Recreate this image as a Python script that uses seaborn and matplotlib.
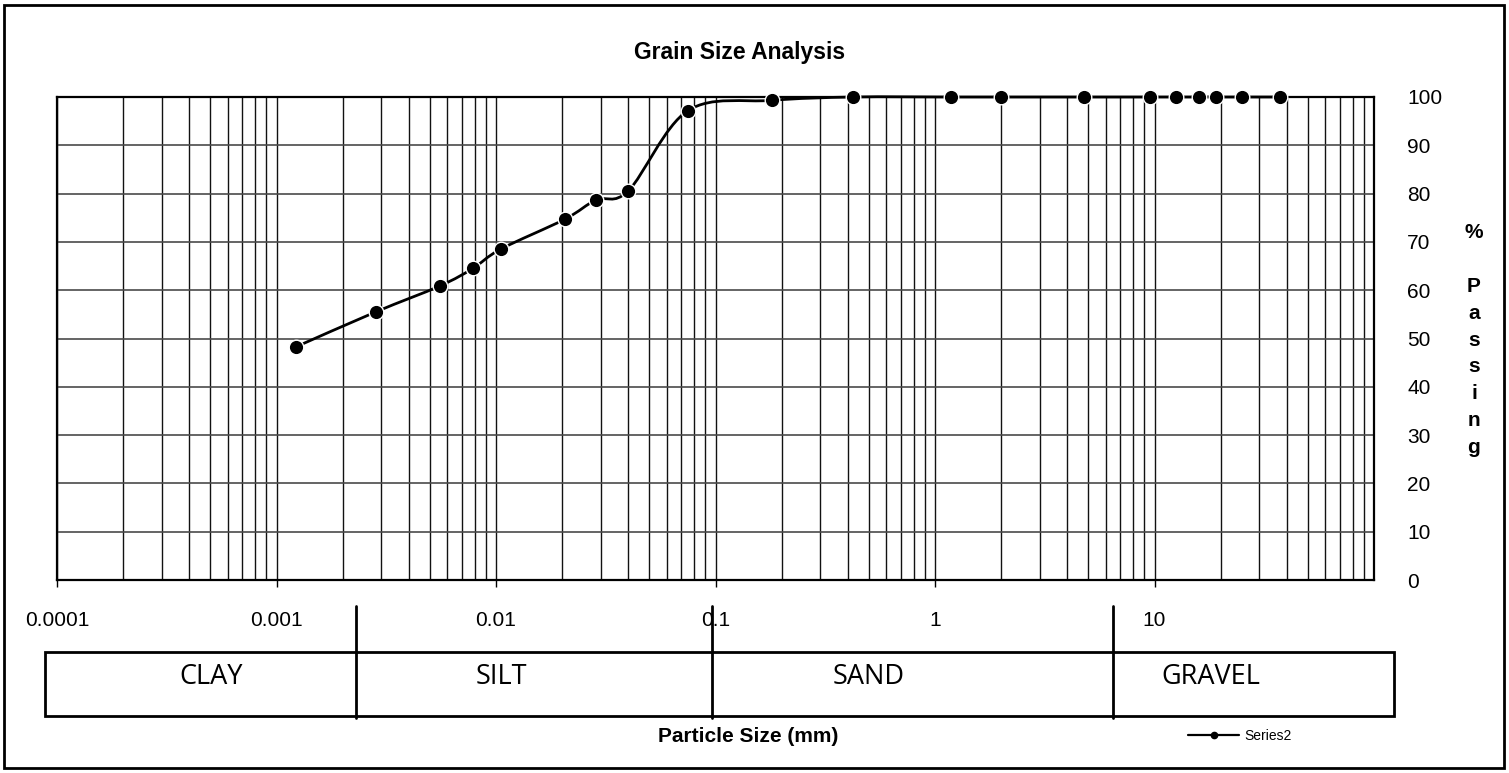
import numpy as np
import pandas as pd
import matplotlib
matplotlib.use("Agg")
import matplotlib.pyplot as plt
import seaborn as sns
from matplotlib.path import Path
from matplotlib.patches import PathPatch, Rectangle
from matplotlib.lines import Line2D
from matplotlib.ticker import LogLocator, NullFormatter

# ---------------- data ----------------
title = "Grain Size Analysis"
x_label = "Particle Size (mm)"
y_label = "%\n\nP\na\ns\ns\ni\nn\ng"
series_name = "Series2"
particle_size_mm = [0.00123, 0.00283, 0.00556, 0.00784, 0.0105, 0.0206, 0.0286,
                    0.0401, 0.075, 0.18, 0.425, 1.18, 2.0, 4.75, 9.5, 12.5,
                    16.0, 19.0, 25.0, 37.5]
percent_passing = [48.3, 55.5, 60.9, 64.5, 68.5, 74.7, 78.7, 80.6, 97.2, 99.3,
                   100, 100, 100, 100, 100, 100, 100, 100, 100, 100]
x_tick_values = [0.0001, 0.001, 0.01, 0.1, 1, 10]
x_tick_labels = ["0.0001", "0.001", "0.01", "0.1", "1", "10"]
y_tick_values = [0, 10, 20, 30, 40, 50, 60, 70, 80, 90, 100]
soil_classes = ["CLAY", "SILT", "SAND", "GRAVEL"]

# ---------------- layout ----------------
W, H = 1509, 773
sns.set_theme(style="white")
plt.rcParams['font.family'] = ['Liberation Sans', 'DejaVu Sans']
plt.rcParams['text.color'] = 'black'
plt.rcParams['axes.labelcolor'] = 'black'
plt.rcParams['xtick.color'] = 'black'
plt.rcParams['ytick.color'] = 'black'

fig = plt.figure(figsize=(W / 100, H / 100), dpi=100)
fig.patch.set_facecolor("white")


def fx(px):
    return px / W


def fy(py):
    return 1 - py / H


ax = fig.add_axes([fx(57), fy(580), (1374 - 57) / W, (580 - 97) / H])
ax.set_facecolor("white")
df = pd.DataFrame({"size": particle_size_mm, "passing": percent_passing})

ax.set_xscale("log")
ax.set_xlim(1e-4, 100)
ax.set_ylim(0, 100)

# grid
ax.xaxis.set_minor_locator(LogLocator(base=10, subs=np.arange(2, 10)))
ax.xaxis.set_minor_formatter(NullFormatter())
ax.set_xticks(x_tick_values)
ax.set_xticklabels(x_tick_labels)
ax.set_yticks(y_tick_values)
ax.grid(True, which="both", axis="x", color="#111111", lw=1.0)
ax.grid(True, which="major", axis="y", color="#4a4a4a", lw=1.2)
ax.set_axisbelow(True)

# smoothed line (Bezier through the points, computed in log-x space)
lx = np.log10(np.array(particle_size_mm))
ly = np.array(percent_passing, dtype=float)
P = np.column_stack([lx, ly])
n = len(P)
verts = [P[0]]
codes = [Path.MOVETO]
for i in range(n - 1):
    p0 = P[i - 1] if i > 0 else P[i]
    p1 = P[i]
    p2 = P[i + 1]
    p3 = P[i + 2] if i + 2 < n else P[i + 1]
    c1 = p1 + (p2 - p0) / 6.0
    c2 = p2 - (p3 - p1) / 6.0
    verts += [c1, c2, p2]
    codes += [Path.CURVE4] * 3
verts = np.array(verts)
verts[:, 0] = 10 ** verts[:, 0]
curve = PathPatch(Path(verts, codes), fill=False, edgecolor="black", lw=2.0,
                  transform=ax.transData, clip_on=False, zorder=4)
ax.add_patch(curve)

sns.scatterplot(data=df, x="size", y="passing", ax=ax, color="black", s=110,
                edgecolor="white", linewidth=1.0, zorder=5, clip_on=False,
                legend=False)

ax.set_xlabel("")
ax.set_ylabel("")

for sp in ax.spines.values():
    sp.set_visible(True)
    sp.set_color("black")
    sp.set_linewidth(1.6)

ax.tick_params(axis="x", which="major", bottom=True, direction="out", length=5,
               width=1, pad=17, labelsize=15, colors="black")
ax.tick_params(axis="x", which="minor", bottom=False, length=0)
ax.yaxis.tick_right()
ax.tick_params(axis="y", which="both", left=False, right=False, length=0,
               pad=24, labelsize=15, colors="black")

# title and labels
fig.text(fx(740), fy(52), title, ha="center", va="center", fontsize=16.5,
         fontweight="bold", color="black")
fig.text(fx(748), fy(737), x_label, ha="center", va="center", fontsize=15,
         fontweight="bold", color="black")
fig.text(fx(1474), fy(340), y_label, ha="center", va="center", fontsize=15,
         fontweight="bold", linespacing=1.53, color="black")

# soil classification band
fig.add_artist(Rectangle((fx(45), fy(716)), (1394 - 45) / W, (716 - 652) / H,
                         transform=fig.transFigure, fill=False,
                         edgecolor="black", lw=2))
for sx in [356, 712, 1113]:
    fig.add_artist(Line2D([fx(sx), fx(sx)], [fy(606), fy(718)],
                          transform=fig.transFigure, color="black", lw=2))
class_x = [211, 501, 869, 1211]
for name, cx in zip(soil_classes, class_x):
    fig.text(fx(cx), fy(677), name, ha="center", va="center", fontsize=19.5,
             family=["Open Sans", "DejaVu Sans"], color="black")

# legend
handle = Line2D([0], [0], color="black", lw=1.6, marker="o", ms=4.5)
leg = fig.legend(handles=[handle], labels=[series_name], loc="center left",
                 bbox_to_anchor=(fx(1188), fy(736)), frameon=False, fontsize=10,
                 handlelength=3.7, handletextpad=0.35, borderpad=0,
                 borderaxespad=0)
for t in leg.get_texts():
    t.set_color("black")

# outer frame
fig.add_artist(Rectangle((fx(4), fy(768)), (1504 - 4) / W, (768 - 5) / H,
                         transform=fig.transFigure, fill=False,
                         edgecolor="black", lw=2))

fig.savefig("out.png", dpi=100, facecolor="white")
